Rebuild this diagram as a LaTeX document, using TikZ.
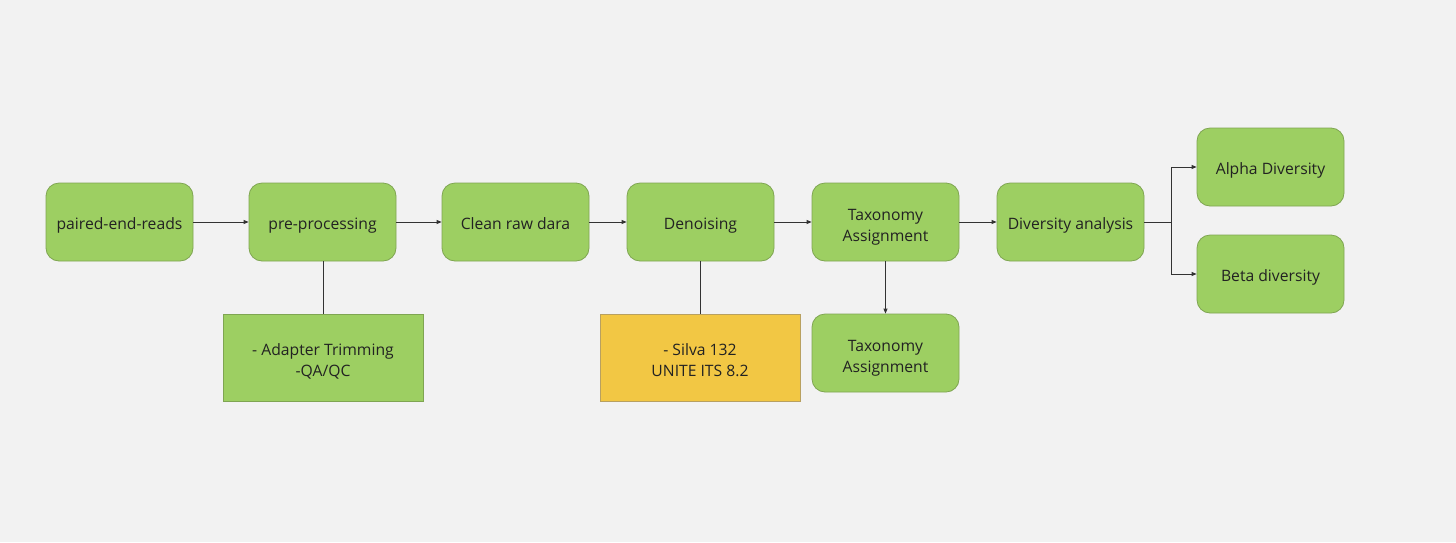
\documentclass[tikz,border=0pt]{standalone}
\usepackage{fontspec}
\setmainfont{Open Sans}
\usetikzlibrary{arrows.meta}
\definecolor{bg}{HTML}{F2F2F2}
\definecolor{gfill}{HTML}{9DCF62}
\definecolor{gline}{HTML}{7FA552}
\definecolor{yfill}{HTML}{F2C744}
\definecolor{yline}{HTML}{B8A060}
\definecolor{txt}{HTML}{222222}
\definecolor{conn}{HTML}{333333}
\newcommand{\topst}{\rule{0pt}{21.5pt}}
\tikzset{
  basebox/.style={inner sep=0pt, align=center, text=txt, font=\fontsize{15.7}{21}\selectfont, line width=0.8pt,
    execute at begin node={\rule{0pt}{18.5pt}}, execute at end node={\rule[-4pt]{0pt}{4pt}}},
  rbox/.style={basebox, draw=gline, fill=gfill, rounded corners=13pt, minimum width=147pt, minimum height=78pt},
  sbox/.style={basebox, draw=gline, fill=gfill, minimum width=200pt, minimum height=87pt},
  ybox/.style={sbox, draw=yline, fill=yfill},
  link/.style={draw=conn, line width=0.8pt},
  arr/.style={link, -{Triangle[length=5pt,width=4pt]}}
}
\begin{document}
\begin{tikzpicture}[x=1pt,y=-1pt]
\fill[bg] (0,0) rectangle (1456,542);
\useasboundingbox (0,0) rectangle (1456,542);
\node[rbox] (a) at (119.5,222) {paired-end-reads};
\node[rbox] (b) at (322.5,222) {pre-processing};
\node[rbox] (c) at (515.5,222) {Clean raw dara};
\node[rbox] (d) at (700.5,222) {Denoising};
\node[rbox] (e) at (885.5,222) {\topst Taxonomy\\Assignment};
\node[rbox] (f) at (1070.5,222) {Diversity analysis};
\node[rbox] (g) at (1270.5,167) {Alpha Diversity};
\node[rbox] (h) at (1270.5,274) {Beta diversity};
\node[sbox] (i) at (323,357.5) {\topst - Adapter Trimming\\-QA/QC};
\node[ybox] (j) at (700,357.5) {\topst - Silva 132\\UNITE ITS 8.2};
\node[rbox] (k) at (885.5,353) {\topst Taxonomy\\Assignment};
\coordinate (sp) at (1171,222);
\draw[arr] (a) -- (b);
\draw[arr] (b) -- (c);
\draw[arr] (c) -- (d);
\draw[arr] (d) -- (e);
\draw[arr] (e) -- (f);
\draw[link] (f) -- (sp);
\draw[arr] (sp) |- (g.west);
\draw[arr] (sp) |- (h.west);
\draw[link] (b.south -| i.north) -- (i.north);
\draw[link] (d.south -| j.north) -- (j.north);
\draw[arr] (e) -- (k);
\end{tikzpicture}
\end{document}
